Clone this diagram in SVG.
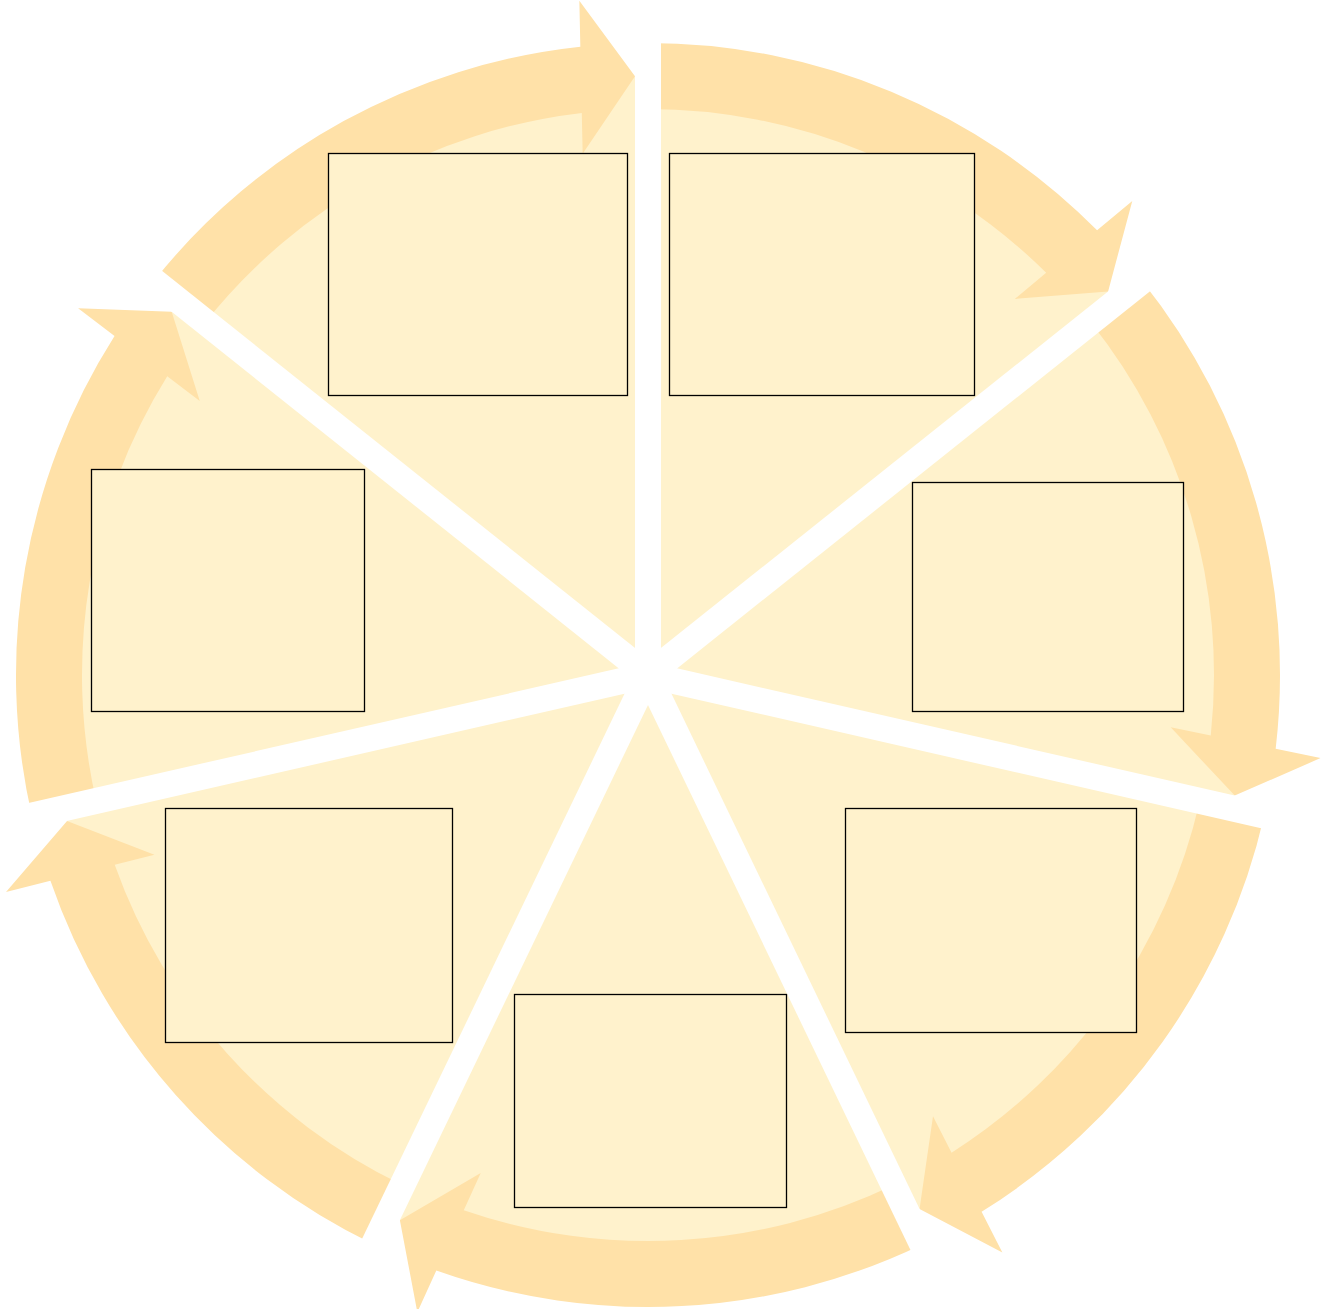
<svg xmlns="http://www.w3.org/2000/svg" width="1329" height="1309" viewBox="0 0 1329 1309">
<style>
.pie{fill:#FFF2CC;}
.arrow{fill:#FFE1A8;stroke:none;}
.spoke{stroke:#FFFFFF;stroke-width:26;stroke-linecap:butt;fill:none;}
.box{fill:#FFF2CC;stroke:#000000;stroke-width:1.3;}
</style>
<rect x="0" y="0" width="1329" height="1309" fill="#FFFFFF"/>
<g id="background">
<circle class="pie" cx="648" cy="675" r="599"/>
</g>
<g id="connectors">
<path class="arrow" d="M648,43 A632,632 0 0 1 1097.09,230.32 L1132.28,200.99 L1108.10,291.45 L1014.76,298.95 L1046.19,272.75 A566,566 0 0 0 648,109 Z"/>
<path class="arrow" d="M1142.12,280.95 A632,632 0 0 1 1275.67,748.87 L1320.54,758.09 L1234.74,795.58 L1170.68,727.29 L1210.76,735.53 A566,566 0 0 0 1090.52,322.10 Z"/>
<path class="arrow" d="M1264.16,815.63 A632,632 0 0 1 981.59,1211.79 L1002.36,1252.62 L919.55,1208.91 L933.00,1116.24 L951.55,1152.72 A566,566 0 0 0 1199.81,800.95 Z"/>
<path class="arrow" d="M922.21,1244.41 A632,632 0 0 1 436.32,1270.49 L417.34,1312.19 L399.88,1220.19 L480.72,1172.93 L463.77,1210.18 A566,566 0 0 0 893.58,1184.95 Z"/>
<path class="arrow" d="M373.79,1244.41 A632,632 0 0 1 50.44,880.78 L6.01,891.94 L67.05,820.93 L154.41,854.66 L114.72,864.63 A566,566 0 0 0 402.42,1184.95 Z"/>
<path class="arrow" d="M31.84,815.63 A632,632 0 0 1 114.54,336.11 L78.11,308.33 L171.68,311.78 L199.77,401.11 L167.23,376.29 A566,566 0 0 0 96.19,800.95 Z"/>
<path class="arrow" d="M153.88,280.95 A632,632 0 0 1 580.34,46.63 L579.35,0.83 L635.00,76.14 L582.67,153.79 L581.78,112.88 A566,566 0 0 0 205.48,322.10 Z"/>
</g>
<g id="spokes">
<line class="spoke" x1="648" y1="675" x2="648" y2="-25"/>
<line class="spoke" x1="648" y1="675" x2="1195.28" y2="238.56"/>
<line class="spoke" x1="648" y1="675" x2="1330.45" y2="830.76"/>
<line class="spoke" x1="648" y1="675" x2="951.72" y2="1305.68"/>
<line class="spoke" x1="648" y1="675" x2="344.28" y2="1305.68"/>
<line class="spoke" x1="648" y1="675" x2="-34.45" y2="830.76"/>
<line class="spoke" x1="648" y1="675" x2="100.72" y2="238.56"/>
</g>
<g id="node1"><rect class="box" x="328.5" y="153.5" width="299" height="242"/></g>
<g id="node2"><rect class="box" x="669.5" y="153.5" width="305" height="242"/></g>
<g id="node3"><rect class="box" x="912.5" y="482.5" width="271" height="229"/></g>
<g id="node4"><rect class="box" x="845.5" y="808.5" width="291" height="224"/></g>
<g id="node5"><rect class="box" x="514.5" y="994.5" width="272" height="213"/></g>
<g id="node6"><rect class="box" x="165.5" y="808.5" width="287" height="234"/></g>
<g id="node7"><rect class="box" x="91.5" y="469.5" width="273" height="242"/></g>
</svg>
